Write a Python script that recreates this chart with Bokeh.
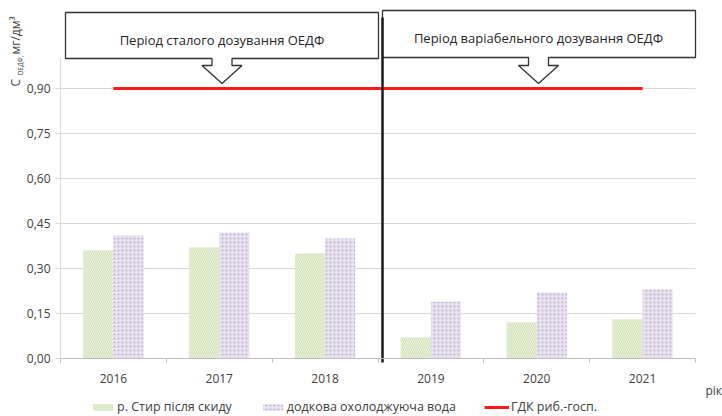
import math
import numpy as np
from bokeh.plotting import figure
from bokeh.models import Range1d, FixedTicker, Label, Legend, LegendItem
from bokeh.core.properties import value
from bokeh.embed import file_html
from bokeh.resources import INLINE

# ---------------- data ----------------
years = ["2016", "2017", "2018", "2019", "2020", "2021"]
styr_after = [0.36, 0.37, 0.35, 0.07, 0.12, 0.13]
cooling_water = [0.41, 0.42, 0.40, 0.19, 0.22, 0.23]
gdk_limit = [0.90, 0.90, 0.90, 0.90, 0.90, 0.90]
y_ticks = [0.00, 0.15, 0.30, 0.45, 0.60, 0.75, 0.90]
y_tick_labels = ["0,00", "0,15", "0,30", "0,45", "0,60", "0,75", "0,90"]
series_names = ["р. Стир після скиду", "додкова охолоджуюча вода", "ГДК риб.-госп."]
period_labels = ["Період сталого дозування ОЕДФ", "Період варіабельного дозування ОЕДФ"]
x_title = "рік"

FONT = "Open Sans"
TXT = "#404040"
GRID = "#d9d9d9"

W, H = 722, 416
SX = (695 - 60) / 6.0   # px per category
SY = 300.0              # px per unit


def px(x):  # page pixel -> data x
    return (x - 60) / SX


def py(y):  # page pixel -> data y
    return (358 - y) / SY


p = figure(width=W, height=H, output_backend="svg", toolbar_location=None,
           x_range=Range1d(px(0), px(W)), y_range=Range1d(py(H), py(0)),
           min_border=0, min_border_left=0, min_border_right=0,
           min_border_top=0, min_border_bottom=0)
p.outline_line_color = None
p.background_fill_color = "white"
p.border_fill_color = "white"

n = len(years)
centers = np.arange(n) + 0.5
bw = 0.285

# axes drawn inside the full-canvas frame
p.xaxis.fixed_location = 0
p.yaxis.fixed_location = 0
p.xaxis.bounds = (0, n)
p.yaxis.bounds = (0, 1.0)

p.xaxis.ticker = FixedTicker(ticks=list(centers), minor_ticks=list(range(n + 1)))
p.xaxis.major_label_overrides = {float(c): y for c, y in zip(centers, years)}
p.xaxis.major_tick_out = 0
p.xaxis.major_tick_in = 0
p.xaxis.minor_tick_out = 4
p.xaxis.minor_tick_in = 0
p.xaxis.minor_tick_line_color = "#bfbfbf"
p.xaxis.axis_line_color = "#bfbfbf"
p.xaxis.major_label_standoff = 11
p.xaxis.major_label_text_font = FONT
p.xaxis.major_label_text_font_size = "12px"
p.xaxis.major_label_text_color = TXT

p.yaxis.ticker = FixedTicker(ticks=y_ticks, minor_ticks=[])
p.yaxis.major_label_overrides = {t: l for t, l in zip(y_ticks, y_tick_labels)}
p.yaxis.axis_line_color = GRID
p.yaxis.major_tick_line_color = GRID
p.yaxis.major_tick_out = 5
p.yaxis.major_tick_in = 0
p.yaxis.major_label_standoff = 5
p.yaxis.major_label_text_font = FONT
p.yaxis.major_label_text_font_size = "12px"
p.yaxis.major_label_text_color = TXT

p.xgrid.visible = False
p.ygrid.visible = False
gy = y_ticks[1:]
p.segment(x0=[0] * len(gy), x1=[n] * len(gy), y0=gy, y1=gy, line_color=GRID, line_width=1)

# bars
r1 = p.vbar(x=centers - bw / 2, top=styr_after, width=bw, bottom=0,
            fill_color="#d2e2b4", line_color=None,
            hatch_pattern="\\", hatch_color="#edf3e2", hatch_scale=4, hatch_weight=1)
r2 = p.vbar(x=centers + bw / 2, top=cooling_water, width=bw, bottom=0,
            fill_color="#e8e3ef", line_color=None,
            hatch_pattern=".", hatch_color="#bdb0cf", hatch_scale=4, hatch_weight=1)
r3 = p.line(x=centers, y=gdk_limit, line_color="#ff1a1a", line_width=3)

# callout boxes
boxes = [  # x0, x1, ytop, ybot, cx  (page px)
    (65, 378, 12, 58, 221.5),
    (382, 695, 10, 57, 538),
]
sh, wg = 10, 20
xs, ys = [], []
for x0, x1, yt, yb, cx in boxes:
    xx = [x0, x1, x1, cx + sh, cx + sh, cx + wg, cx, cx - wg, cx - sh, cx - sh, x0]
    yy = [yt, yt, yb, yb, 65, 65, 83, 65, 65, yb, yb]
    xs.append([px(v) for v in xx])
    ys.append([py(v) for v in yy])
p.patches(xs, ys, fill_color="white", line_color="#333333", line_width=1.3)
p.text(x=[px(221.5), px(538)], y=[py(39.5), py(37)], text=period_labels,
       text_align="center", text_baseline="middle", text_font=value(FONT),
       text_font_size="13px", text_color="#262626")

# divider between periods
p.segment(x0=[px(382)], y0=[py(362)], x1=[px(382)], y1=[py(17)], line_color="#1a1a1a", line_width=2.5)

# y axis title (rotated pieces)
for txt, xx, yy, fs in [("C", 15, 86, "12px"), ("ОЕДФ,", 19.5, 75, "6.5px"), ("мг/дм³", 15, 54, "12px")]:
    p.add_layout(Label(x=px(xx), y=py(yy), text=txt, angle=math.pi / 2, text_align="left",
                       text_baseline="middle", text_font=FONT, text_font_size=fs, text_color=TXT))

# x title
p.add_layout(Label(x=px(705), y=py(390), text=x_title, text_align="left", text_baseline="middle",
                   text_font=FONT, text_font_size="12px", text_color=TXT))

# legend
legend = Legend(items=[LegendItem(label=series_names[0], renderers=[r1]),
                       LegendItem(label=series_names[1], renderers=[r2]),
                       LegendItem(label=series_names[2], renderers=[r3])],
                orientation="horizontal", location=(90, 1), padding=0, margin=0, spacing=28,
                label_standoff=2, glyph_width=25, glyph_height=8, label_height=8,
                label_text_font=FONT, label_text_font_size="12.5px", label_text_color=TXT,
                border_line_color=None, background_fill_alpha=0)
p.add_layout(legend)

open("out.html", "w").write(file_html(p, INLINE))
